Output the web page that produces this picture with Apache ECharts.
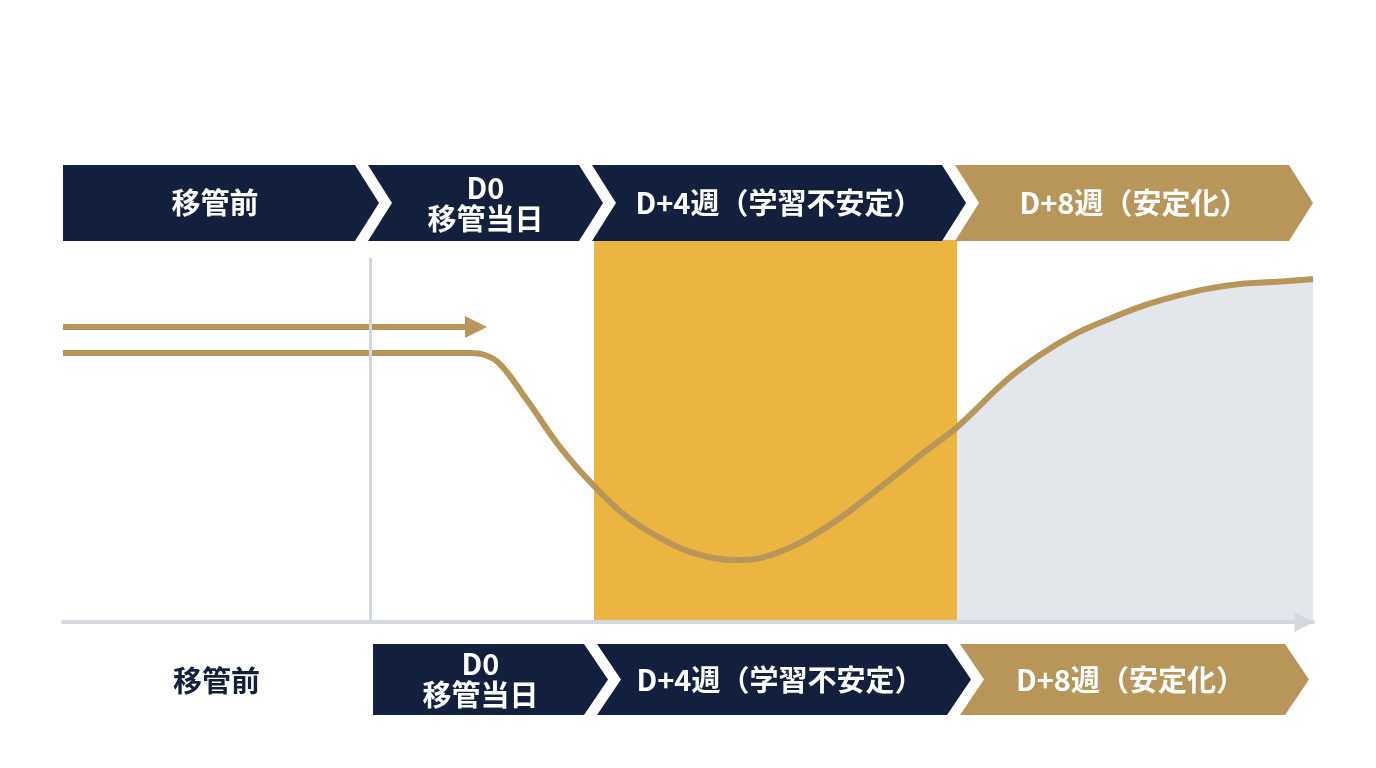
<!DOCTYPE html>
<html>
<head>
<meta charset="utf-8">
<script src="https://cdn.jsdelivr.net/npm/echarts@6/dist/echarts.min.js"></script>
<style>
  html, body { margin: 0; padding: 0; background: #fff; }
  #chart { width: 1376px; height: 768px; }
</style>
</head>
<body>
<div id="chart"></div>
<script>
// phase boundaries on the time axis (abstract units)
var phaseBounds = [0, 30.7, 53.1, 89.4, 125];
var topLabels = ['移管前', 'D0\n移管当日', 'D+4週（学習不安定）', 'D+8週（安定化）'];
var bottomLabels = ['移管前', 'D0\n移管当日', 'D+4週（学習不安定）', 'D+8週（安定化）'];

// performance curve
var curveX = [0, 30.7, 40.7, 42.2, 43.7, 46.4, 49.7, 53.0, 56.4, 59.7, 63.0, 67.4, 71.4, 76.4, 81.4, 86.4,
              89.4, 94.4, 97.7, 101.0, 104.4, 107.7, 111.0, 114.4, 117.7, 121.0, 125.0];
var curveY = [70.4, 70.4, 70.4, 69.9, 67.5, 58.1, 45.8, 35.9, 27.5, 22.0, 18.1, 16.2, 18.1, 24.9, 34.6, 45.0,
              51.0, 63.4, 69.9, 75.1, 79.1, 82.5, 85.1, 87.2, 88.5, 89.0, 89.8];

// straight "expected" arrow
var arrowX = [0, 41.3];
var arrowY = [77.2, 77.2];

// unstable zone and D0 divider
var unstableZone = [53.1, 89.4];
var dividerX = 30.7;
var dividerTop = 95.3;

var NAVY = '#13203d';
var GOLD = '#b8965a';
var YELLOW = '#ecb541';
var GREY = '#e3e6ea';
var FONT = '"Noto Sans CJK JP", "Noto Sans", sans-serif';

var curveData = curveX.map(function (x, i) { return [x, curveY[i]]; });

var phaseItems = [];
for (var i = 0; i < 4; i++) {
    phaseItems.push([phaseBounds[i], phaseBounds[i + 1], 0, i]);
    phaseItems.push([phaseBounds[i], phaseBounds[i + 1], 1, i]);
}
var rowColors = [NAVY, NAVY, NAVY, GOLD];

function renderPhase(params, api) {
    var x0 = api.value(0), x1 = api.value(1), row = api.value(2), i = api.value(3);
    var p0 = api.coord([x0, 0]);
    var p1 = api.coord([x1, 0]);
    var top = api.coord([0, 100])[1];
    var bot = p0[1];
    var label = row === 0 ? topLabels[i] : bottomLabels[i];
    var depth = 24;
    var left, tip, y0, y1, notch;

    if (row === 1 && i === 0) {
        return {
            type: 'text',
            style: {
                text: label, x: (p0[0] + p1[0]) / 2, y: bot + 59,
                fill: NAVY, font: 'bold 29px ' + FONT, align: 'center', verticalAlign: 'middle'
            }
        };
    }
    if (row === 0) {
        left = i === 0 ? p0[0] : p0[0] - 2;
        tip = i === 3 ? p1[0] : p1[0] + 9;
        y0 = top - 75; y1 = top + 1;
        notch = i === 0 ? 0 : depth;
    } else {
        left = p0[0] + 3;
        tip = i === 3 ? p1[0] - 4 : p1[0] + 14;
        y0 = bot + 22; y1 = bot + 93;
        notch = i === 1 ? 0 : depth;
    }
    var ym = (y0 + y1) / 2;
    var cx = (left + notch / 2 + tip - depth / 2) / 2 + (row === 1 ? -4 : 0);
    return {
        type: 'group',
        children: [{
            type: 'polygon',
            shape: { points: [[left, y0], [tip - depth, y0], [tip, ym], [tip - depth, y1], [left, y1], [left + notch, ym]] },
            style: { fill: rowColors[i] }
        }, {
            type: 'text',
            style: {
                text: label, x: cx, y: ym, fill: '#ffffff',
                font: 'bold 29px ' + FONT, lineHeight: 31, align: 'center', verticalAlign: 'middle'
            }
        }]
    };
}

var chart = echarts.init(document.getElementById('chart'));

chart.setOption({
    animation: false,
    backgroundColor: '#ffffff',
    grid: { left: 63, right: 63, top: 240, bottom: 146 },
    xAxis: {
        type: 'value', min: 0, max: 125, z: 4,
        axisLine: {
            show: true,
            lineStyle: { color: '#d3d7de', width: 4 },
            symbol: ['none', 'triangle'],
            symbolSize: [20, 19],
            symbolOffset: [0, -9]
        },
        axisTick: { show: false }, axisLabel: { show: false }, splitLine: { show: false }
    },
    yAxis: { type: 'value', min: 0, max: 100, show: false },
    series: [
        {
            name: 'zones', type: 'line', data: [], z: 1,
            markArea: {
                silent: true,
                itemStyle: { color: YELLOW },
                data: [[{ coord: [unstableZone[0], 0] }, { coord: [unstableZone[1], 100] }]]
            },
            markLine: {
                silent: true, symbol: ['none', 'none'],
                lineStyle: { color: '#d3d7de', width: 3, type: 'solid' },
                label: { show: false },
                data: [[{ coord: [dividerX, 0] }, { coord: [dividerX, dividerTop] }]]
            }
        },
        {
            name: 'stable', type: 'line', data: curveData, z: 2,
            smooth: 0.4, showSymbol: false,
            lineStyle: { width: 0 },
            areaStyle: { color: GREY, opacity: 1 }
        },
        {
            name: 'performance', type: 'line', data: curveData, z: 3,
            smooth: 0.4, showSymbol: false,
            lineStyle: { color: GOLD, width: 6 }
        },
        {
            name: 'expected', type: 'lines', coordinateSystem: 'cartesian2d', z: 3,
            symbol: ['none', 'triangle'], symbolSize: [20, 22],
            lineStyle: { color: GOLD, width: 6, opacity: 1 },
            data: [{ coords: [[arrowX[0], arrowY[0]], [arrowX[1], arrowY[1]]] }]
        },
        {
            name: 'phases', type: 'custom', z: 5, clip: false,
            renderItem: renderPhase,
            data: phaseItems
        }
    ]
});

// grey fill only for the stable phase: hard-stop gradient starting at D+8
var stableLeft = chart.convertToPixel({ xAxisIndex: 0 }, phaseBounds[3]) / 1376;
chart.setOption({
    series: [{}, {
        areaStyle: {
            opacity: 1,
            color: {
                type: 'linear', x: 0, y: 0, x2: 1376, y2: 0, global: true,
                colorStops: [
                    { offset: 0, color: 'rgba(255,255,255,0)' },
                    { offset: stableLeft, color: 'rgba(255,255,255,0)' },
                    { offset: stableLeft, color: GREY },
                    { offset: 1, color: GREY }
                ]
            }
        }
    }]
});
</script>
</body>
</html>
